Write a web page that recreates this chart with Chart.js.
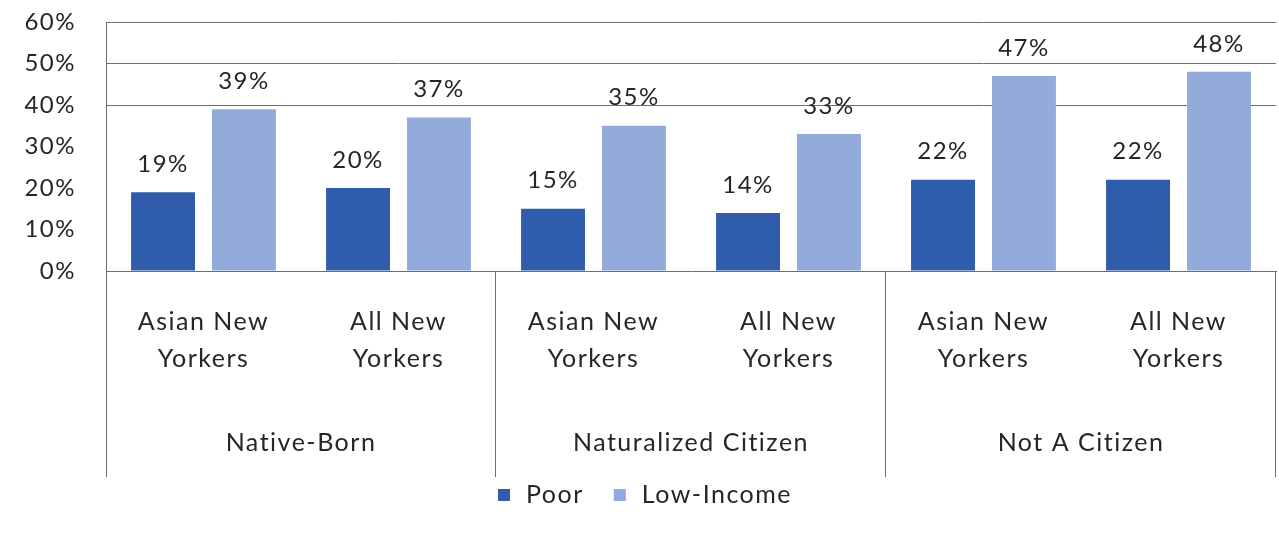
<!DOCTYPE html>
<html>
<head>
<meta charset="utf-8">
<script src="https://cdn.jsdelivr.net/npm/chart.js@4/dist/chart.umd.min.js"></script>
<style>
  html, body { margin: 0; padding: 0; background: #ffffff; }
  #wrap { width: 1279px; height: 535px; position: relative; }
</style>
</head>
<body>
<div id="wrap"><canvas id="c" width="1279" height="535"></canvas></div>
<script>
// Categories (two per citizenship group) and series values, in percent
const groups = ['Native-Born', 'Naturalized Citizen', 'Not A Citizen'];
const subgroups = [['Asian New', 'Yorkers'], ['All New', 'Yorkers']];
const categories = ['Asian New Yorkers', 'All New Yorkers', 'Asian New Yorkers', 'All New Yorkers', 'Asian New Yorkers', 'All New Yorkers'];
const poor = [19, 20, 15, 14, 22, 22];
const lowIncome = [39, 37, 35, 33, 47, 48];
const yTicks = [0, 10, 20, 30, 40, 50, 60];

const FONT = 'Lato, "Open Sans", sans-serif';
const TEXT = '#262626';
const LINE = '#6e6e6e';
const AXIS_BOTTOM = 477;

// slightly open letter spacing for every text drawn on the canvas
const spacing = {
  id: 'spacing',
  beforeDraw(chart) { chart.ctx.letterSpacing = '1.5px'; }
};

const overlay = {
  id: 'overlay',
  afterDatasetsDraw(chart) {
    const ctx = chart.ctx;
    const x = chart.scales.x;
    const area = chart.chartArea;
    ctx.save();
    ctx.letterSpacing = '1.5px';

    // value labels above each bar
    ctx.font = '24px ' + FONT;
    ctx.fillStyle = TEXT;
    ctx.textAlign = 'center';
    ctx.textBaseline = 'middle';
    chart.data.datasets.forEach((ds, di) => {
      const meta = chart.getDatasetMeta(di);
      meta.data.forEach((bar, i) => {
        ctx.fillText(ds.data[i] + '%', bar.x, bar.y - 28);
      });
    });

    // vertical axis line and group dividers below the plot
    ctx.strokeStyle = LINE;
    ctx.lineWidth = 1;
    const half = (x.getPixelForValue(1) - x.getPixelForValue(0)) / 2;
    const edges = [area.left];
    for (let g = 0; g < groups.length; g++) {
      edges.push(Math.round(x.getPixelForValue(g * 2 + 1) + half) - 0.5);
    }
    ctx.beginPath();
    ctx.moveTo(area.left + 0.5, area.top);
    ctx.lineTo(area.left + 0.5, AXIS_BOTTOM);
    for (let k = 1; k < edges.length; k++) {
      ctx.moveTo(edges[k], area.bottom);
      ctx.lineTo(edges[k], AXIS_BOTTOM);
    }
    ctx.stroke();

    // category labels (two lines) and group labels
    ctx.font = '25px ' + FONT;
    ctx.fillStyle = TEXT;
    for (let i = 0; i < categories.length; i++) {
      const cx = x.getPixelForValue(i);
      const lines = subgroups[i % 2];
      ctx.fillText(lines[0], cx, 322);
      ctx.fillText(lines[1], cx, 359);
    }
    groups.forEach((g, gi) => {
      const cx = (x.getPixelForValue(gi * 2) + x.getPixelForValue(gi * 2 + 1)) / 2;
      ctx.fillText(g, cx, 443);
    });

    // legend
    ctx.font = '25px ' + FONT;
    ctx.textAlign = 'left';
    const items = chart.data.datasets.map(d => ({ label: d.label, color: d.backgroundColor }));
    let lx = 498;
    const ly = 495;
    items.forEach(it => {
      ctx.fillStyle = it.color;
      ctx.fillRect(lx, ly - 6, 12, 12);
      ctx.fillStyle = TEXT;
      ctx.fillText(it.label, lx + 28, ly);
      lx += 28 + ctx.measureText(it.label).width + 30;
    });
    ctx.restore();
  }
};

new Chart(document.getElementById('c'), {
  type: 'bar',
  data: {
    labels: categories,
    datasets: [
      { label: 'Poor', data: poor, backgroundColor: '#2f5dab' },
      { label: 'Low-Income', data: lowIncome, backgroundColor: '#93abdb' }
    ]
  },
  options: {
    responsive: false,
    animation: false,
    events: [],
    layout: { padding: { top: 22, right: 3, left: 0, bottom: 0 } },
    datasets: { bar: { categoryPercentage: 0.83, barPercentage: 0.79 } },
    plugins: { legend: { display: false }, tooltip: { enabled: false } },
    scales: {
      x: {
        grid: { display: false },
        border: { display: true, color: LINE, width: 1 },
        ticks: { display: false },
        afterFit(s) { s.height = 535 - 271; }
      },
      y: {
        min: 0, max: 60,
        afterBuildTicks(s) { s.ticks = yTicks.map(v => ({ value: v })); },
        ticks: {
          padding: 30,
          color: TEXT,
          font: { family: FONT, size: 24 },
          callback: v => v + '%'
        },
        grid: {
          drawTicks: false,
          color: c => (c.tick && c.tick.value >= 40) ? LINE : 'rgba(0,0,0,0)',
          lineWidth: 1
        },
        border: { display: false },
        afterFit(s) { s.width = 106; s.paddingTop = 0; s.paddingBottom = 0; }
      }
    }
  },
  plugins: [spacing, overlay]
});
</script>
</body>
</html>
